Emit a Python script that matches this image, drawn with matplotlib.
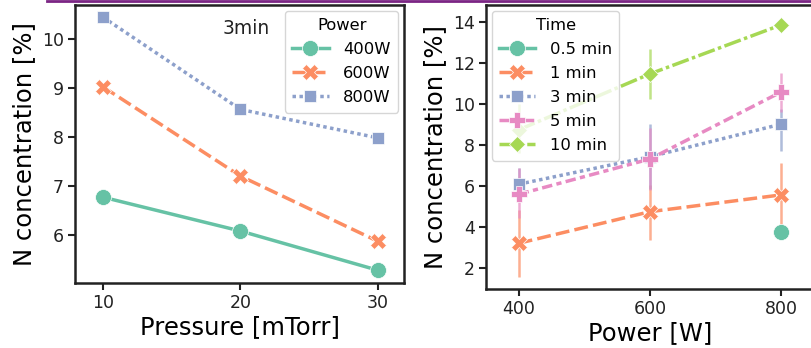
import matplotlib
matplotlib.use("Agg")
import matplotlib.pyplot as plt
from matplotlib.lines import Line2D

# ---- Left panel data (3 min) ----
pressure = [10, 20, 30]
power_labels = ["400W", "600W", "800W"]
n_400W = [6.78, 6.09, 5.29]
n_600W = [9.03, 7.21, 5.88]
n_800W = [10.45, 8.57, 7.99]

# ---- Right panel data ----
power = [400, 600, 800]
time_labels = ["0.5 min", "1 min", "3 min", "5 min", "10 min"]
t05_x = [800]
t05_y = [3.76]
t1_y = [3.19, 4.73, 5.55]
t1_lo = [1.56, 3.35, 4.00]
t1_hi = [4.82, 6.05, 7.09]
t3_y = [6.07, 7.41, 9.00]
t3_lo = [5.30, 5.85, 7.70]
t3_hi = [6.85, 9.00, 9.75]
t5_y = [5.58, 7.30, 10.57]
t5_lo = [4.40, 5.80, 9.60]
t5_hi = [6.86, 8.80, 11.50]
t10_y = [8.72, 11.45, 13.84]
t10_lo = [7.60, 10.23, 13.84]
t10_hi = [10.00, 12.65, 13.84]

colors = ["#66c2a5", "#fc8d62", "#8da0cb", "#e78ac3", "#a6d854"]
markers = ["o", "X", "s", "P", "D"]
msizes = [11.5, 11.5, 8.5, 11.5, 8.5]
dashes = [(None, None), (4, 1.5), (1, 1), (3, 1.25, 1.5, 1.25), (5, 1, 1, 1)]
LW = 2.5

W, H = 811, 348
fig = plt.figure(figsize=(W / 100, H / 100), dpi=100)

def fx(px):
    return px / W

def fy(py):
    return 1 - py / H

TICK_FS = 12.5
LABEL_FS = 17.5
LEG_FS = 11.8

def style_ax(ax):
    for s in ax.spines.values():
        s.set_linewidth(1.8)
        s.set_color("#222222")
    ax.tick_params(axis="both", labelsize=TICK_FS, length=5, width=1.5,
                   colors="#222222", pad=3)

def set_ls(line, d):
    if d[0] is None:
        line.set_linestyle("-")
    else:
        line.set_dashes(d)

leg_kw = dict(fontsize=LEG_FS, title_fontsize=LEG_FS, borderaxespad=0.35,
              handlelength=2.2, labelspacing=0.55, handletextpad=0.9,
              borderpad=0.45)

# ---- Left axes ----
ax1 = fig.add_axes([fx(75), fy(283), fx(404 - 75), (283 - 5) / H])
left_series = [n_400W, n_600W, n_800W]
for i, (lab, ys) in enumerate(zip(power_labels, left_series)):
    (ln,) = ax1.plot(pressure, ys, color=colors[i], marker=markers[i],
                     markersize=msizes[i],
                     markeredgecolor="white", markeredgewidth=0.5,
                     linewidth=LW, label=lab)
    set_ls(ln, dashes[i])
ax1.set_xlim(7.96, 31.9)
ax1.set_ylim(5.03, 10.70)
ax1.set_xticks([10, 20, 30])
ax1.set_yticks([6, 7, 8, 9, 10])
ax1.set_xlabel("Pressure [mTorr]", fontsize=LABEL_FS, labelpad=2)
ax1.set_ylabel("N concentration [%]", fontsize=LABEL_FS, labelpad=4)
style_ax(ax1)
ax1.text(0.52, 0.95, "3min", transform=ax1.transAxes, fontsize=13.5,
         ha="center", va="top", color="#222222")
ax1.legend(title="Power", loc="upper right", **leg_kw)

# ---- Right axes ----
ax2 = fig.add_axes([fx(486), fy(289), fx(814 - 486), (289 - 5) / H])
ax2.plot(t05_x, t05_y, color=colors[0], marker="o", markersize=msizes[0],
         markeredgecolor="white", markeredgewidth=0.5, linestyle="none")
right_series = [(t1_y, t1_lo, t1_hi), (t3_y, t3_lo, t3_hi),
                (t5_y, t5_lo, t5_hi), (t10_y, t10_lo, t10_hi)]
for j, (ys, lo, hi) in enumerate(right_series):
    i = j + 1
    for xv, l, h in zip(power, lo, hi):
        if h > l:
            ax2.plot([xv, xv], [l, h], color=colors[i], linewidth=1.8,
                     alpha=0.7, solid_capstyle="butt", zorder=1.5)
    (ln,) = ax2.plot(power, ys, color=colors[i], marker=markers[i],
                     markersize=msizes[i],
                     markeredgecolor="white", markeredgewidth=0.5,
                     linewidth=LW, zorder=2)
    set_ls(ln, dashes[i])
ax2.set_xlim(350.2, 850)
ax2.set_ylim(0.96, 14.81)
ax2.set_xticks([400, 600, 800])
ax2.set_yticks([2, 4, 6, 8, 10, 12, 14])
ax2.set_xlabel("Power [W]", fontsize=LABEL_FS, labelpad=2)
ax2.set_ylabel("N concentration [%]", fontsize=LABEL_FS, labelpad=4)
style_ax(ax2)

handles = []
for i, lab in enumerate(time_labels):
    h = Line2D([], [], color=colors[i], marker=markers[i],
               markersize=msizes[i],
               markeredgecolor="white", markeredgewidth=0.5, linewidth=LW)
    set_ls(h, dashes[i])
    handles.append(h)
ax2.legend(handles, time_labels, title="Time", loc="upper left", **leg_kw)

# purple rule at the top of the image
fig.add_artist(Line2D([fx(47), 1.0], [fy(0.8), fy(0.8)],
                      transform=fig.transFigure, color="#7b2584", linewidth=2.0))

fig.savefig("out.png", dpi=100)
